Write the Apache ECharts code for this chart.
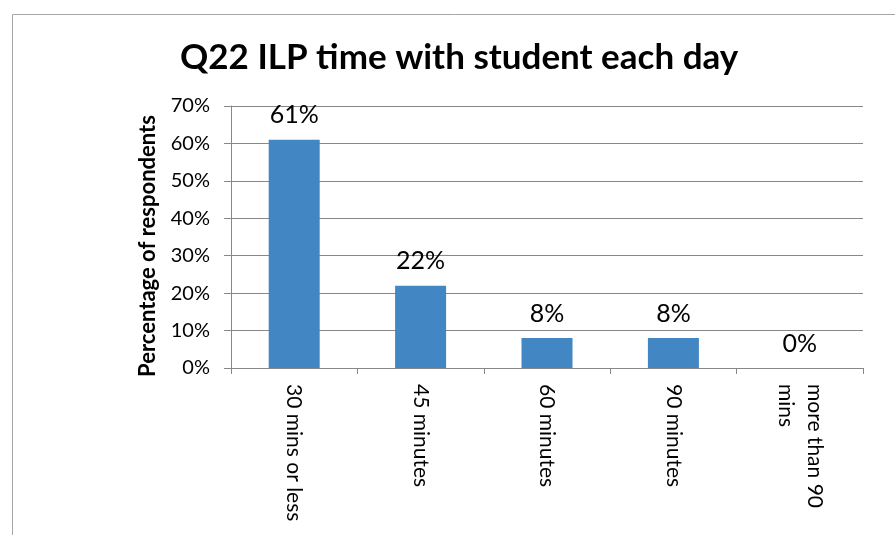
<!DOCTYPE html>
<html>
<head>
<meta charset="utf-8">
<script src="https://cdn.jsdelivr.net/npm/echarts@6/dist/echarts.min.js"></script>
<style>
  html, body { margin: 0; padding: 0; background: #fff; }
  #chart { width: 895px; height: 535px; }
</style>
</head>
<body>
<div id="chart"></div>
<script>
  var categories = ['30 mins or less', '45 minutes', '60 minutes', '90 minutes', 'more than 90\nmins'];
  var percentValues = [61, 22, 8, 8, 0];
  var yTicks = [0, 10, 20, 30, 40, 50, 60, 70];

  var font = 'Lato, "Open Sans", sans-serif';
  var chart = echarts.init(document.getElementById('chart'));

  chart.setOption({
    backgroundColor: '#fff',
    animation: false,
    graphic: [{
      type: 'rect',
      shape: { x: 12.5, y: 14.5, width: 900, height: 600 },
      style: { fill: 'none', stroke: '#a6a6a6', lineWidth: 1 }
    }],
    title: {
      text: 'Q22 ILP time with student each day',
      left: 175,
      top: 35,
      textStyle: { fontFamily: font, fontWeight: 'bold', fontSize: 35, color: '#000' }
    },
    grid: { left: 231, right: 32, top: 106, bottom: 167 },
    xAxis: {
      type: 'category',
      data: categories,
      axisLine: { lineStyle: { color: '#888', width: 1 } },
      axisTick: { show: true, length: 6, alignWithLabel: false, lineStyle: { color: '#888' } },
      axisLabel: {
        rotate: -90,
        interval: 0,
        margin: 16,
        fontFamily: font,
        fontSize: 21,
        color: '#000',
        lineHeight: 29
      }
    },
    yAxis: {
      type: 'value',
      min: yTicks[0],
      max: yTicks[yTicks.length - 1],
      interval: 10,
      name: 'Percentage of respondents',
      nameLocation: 'middle',
      nameGap: 72,
      nameTextStyle: { fontFamily: font, fontWeight: 'bold', fontSize: 22, color: '#000', padding: [0, 18, 0, 0] },
      axisLine: { show: true, lineStyle: { color: '#888', width: 1 } },
      axisTick: { show: true, length: 7, lineStyle: { color: '#888' } },
      splitLine: { lineStyle: { color: '#888', width: 1 } },
      axisLabel: {
        formatter: '{value}%',
        margin: 21,
        fontFamily: font,
        fontSize: 20,
        color: '#000'
      }
    },
    series: [{
      type: 'bar',
      data: percentValues,
      barWidth: 51,
      itemStyle: { color: '#4286c3' },
      label: {
        show: true,
        position: 'top',
        distance: 12,
        formatter: '{c}%',
        fontFamily: font,
        fontSize: 25,
        color: '#000'
      }
    }]
  });
</script>
</body>
</html>
